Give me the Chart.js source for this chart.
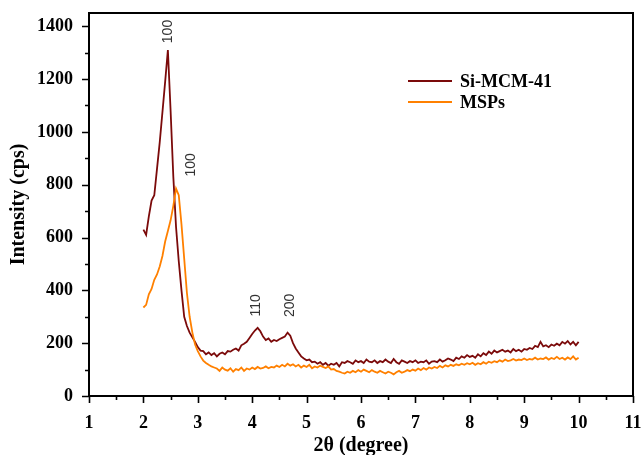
<!DOCTYPE html>
<html>
<head>
<meta charset="utf-8">
<script src="https://cdn.jsdelivr.net/npm/chart.js@4/dist/chart.umd.min.js"></script>
<style>
  html, body { margin: 0; padding: 0; background: #fff; }
  #wrap { width: 644px; height: 455px; }
</style>
</head>
<body>
<div id="wrap"><canvas id="c" width="644" height="455"></canvas></div>
<script>
// XRD scans, sampled every 0.05 deg from 2.00 to 10.00 (2θ)
const X_START = 2, X_STEP = 0.05;

const SI_MCM41 = [
  630, 610, 680, 740, 760, 860, 960, 1075, 1190, 1310,
  1080, 830, 640, 510, 400, 300, 265, 240, 222, 205,
  185, 172, 170, 158, 165, 155, 162, 150, 160, 165,
  158, 170, 168, 175, 180, 172, 192, 198, 205, 220,
  235, 248, 258, 245, 225, 212, 218, 205, 212, 208,
  215, 220, 225, 240, 228, 200, 180, 165, 150, 142,
  135, 138, 128, 130, 122, 128, 118, 125, 115, 122,
  118, 125, 112, 128, 125, 132, 128, 122, 135, 128,
  132, 125, 138, 130, 128, 135, 125, 132, 128, 138,
  130, 125, 140, 128, 122, 135, 130, 125, 132, 128,
  135, 125, 130, 128, 135, 122, 130, 132, 128, 138,
  130, 135, 142, 138, 132, 145, 140, 150, 145, 155,
  148, 152, 145, 158, 150, 162, 155, 168, 160, 172,
  165, 170, 175, 168, 172, 165, 178, 170, 175, 168,
  178, 175, 182, 178, 190, 185, 205, 188, 192, 185,
  195, 190, 198, 192, 205, 198, 208, 195, 205, 192,
  205
];

const MSPS = [
  335, 345, 385, 405, 440, 460, 490, 530, 585, 625,
  665, 720, 785, 760, 650, 520, 390, 300, 240, 195,
  170, 150, 134, 125, 118, 112, 108, 104, 95, 108,
  100, 96, 105, 92, 102, 98, 108, 95, 104, 100,
  108, 102, 110, 104, 106, 112, 105, 110, 108, 115,
  110, 118, 112, 122, 115, 120, 112, 118, 108, 115,
  110, 118, 105, 112, 108, 115, 110, 106, 112, 100,
  102, 95, 92, 88, 85, 92, 88, 95, 90, 98,
  92, 100, 95, 90, 98, 92, 88, 95, 90, 85,
  92, 88, 82, 90, 95, 88, 92, 98, 94, 100,
  96, 104, 98, 106, 100, 108, 104, 110, 106, 114,
  108, 116, 112, 118, 114, 120, 116, 122, 118, 124,
  120, 126, 118, 124, 120, 128, 122, 130, 126, 132,
  128, 135, 130, 138, 132, 135, 140, 134, 138, 136,
  142, 136, 140, 138, 145, 138, 142, 140, 146, 138,
  144, 140, 148, 140, 145, 138, 146, 140, 150, 138,
  145
];

// Miller-index labels at the reflections (centre of the rotated text, data units)
const PEAK_LABELS = ["100", "100", "110", "200"];
const PEAK_X = [2.45, 2.88, 4.08, 4.69];
const PEAK_Y = [1380, 875, 343, 343];

const SERIES_NAMES = ["Si-MCM-41", "MSPs"];
const COLORS = ["#7b0a0a", "#ff8000"];

const X_MIN = 1, X_MAX = 11, Y_MIN = 0, Y_MAX = 1450;
const Y_TICKS = [0, 200, 400, 600, 800, 1000, 1200, 1400];

const pts = arr => arr.map((v, i) => ({ x: +(X_START + i * X_STEP).toFixed(2), y: v }));

const SERIF = "'Liberation Serif', 'Times New Roman', serif";

// ---- frame, tick marks (major + minor), peak labels and inset legend
const decor = {
  id: "decor",
  afterDraw(chart) {
    const { ctx, chartArea: a, scales: { x, y } } = chart;
    ctx.save();
    ctx.strokeStyle = "#000";

    // top + right border of the box
    ctx.lineWidth = 2;
    ctx.beginPath();
    ctx.moveTo(a.left, a.top); ctx.lineTo(a.right, a.top); ctx.lineTo(a.right, a.bottom);
    ctx.stroke();

    // outward ticks
    ctx.lineWidth = 1.6;
    ctx.beginPath();
    for (let v = X_MIN; v <= X_MAX + 1e-9; v += 0.5) {
      const px = Math.round(x.getPixelForValue(v)) + 0.5;
      const len = Number.isInteger(v) ? 7 : 4;
      ctx.moveTo(px, a.bottom); ctx.lineTo(px, a.bottom + len);
    }
    for (let v = 0; v <= 1400; v += 100) {
      const py = Math.round(y.getPixelForValue(v)) + 0.5;
      const len = v % 200 === 0 ? 7 : 4;
      ctx.moveTo(a.left, py); ctx.lineTo(a.left - len, py);
    }
    ctx.stroke();

    // rotated peak indices
    ctx.fillStyle = "#333";
    ctx.font = "14px 'Liberation Sans', Arial, sans-serif";
    ctx.textAlign = "center";
    ctx.textBaseline = "middle";
    PEAK_LABELS.forEach((t, i) => {
      ctx.save();
      ctx.translate(x.getPixelForValue(PEAK_X[i]), y.getPixelForValue(PEAK_Y[i]));
      ctx.rotate(-Math.PI / 2);
      ctx.fillText(t, 0, 0);
      ctx.restore();
    });

    // legend
    ctx.font = "bold 18px " + SERIF;
    ctx.textAlign = "left";
    ctx.fillStyle = "#000";
    SERIES_NAMES.forEach((name, i) => {
      const ly = 81 + i * 21;
      ctx.strokeStyle = COLORS[i];
      ctx.lineWidth = 2.2;
      ctx.beginPath(); ctx.moveTo(408, ly); ctx.lineTo(452, ly); ctx.stroke();
      ctx.fillText(name, 460, ly + 1);
    });
    ctx.restore();
  },
};

new Chart(document.getElementById("c"), {
  type: "line",
  data: {
    datasets: [
      { label: SERIES_NAMES[0], data: pts(SI_MCM41), borderColor: COLORS[0], borderWidth: 1.8, order: 2 },
      { label: SERIES_NAMES[1], data: pts(MSPS), borderColor: COLORS[1], borderWidth: 1.8, order: 1 },
    ],
  },
  options: {
    responsive: false, animation: false,
    parsing: false,
    elements: { point: { radius: 0 }, line: { tension: 0 } },
    layout: { padding: { top: 13, right: 11, left: 0, bottom: 0 } },
    plugins: { legend: { display: false }, tooltip: { enabled: false } },
    scales: {
      x: {
        type: "linear", min: X_MIN, max: X_MAX,
        grid: { display: false, drawTicks: false },
        border: { display: true, color: "#000", width: 2 },
        ticks: { stepSize: 1, padding: 17, color: "#000", font: { family: SERIF, size: 18, weight: "bold" } },
        title: { display: true, text: "2θ (degree)", color: "#000", padding: { top: 0, bottom: -3 },
                 font: { family: SERIF, size: 20, weight: "bold" } },
        afterFit(s) { s.height = 59; s.paddingLeft = 0; s.paddingRight = 0; },
      },
      y: {
        type: "linear", min: Y_MIN, max: Y_MAX,
        grid: { display: false, drawTicks: false },
        border: { display: true, color: "#000", width: 2 },
        ticks: { padding: 16, color: "#000", font: { family: SERIF, size: 18, weight: "bold" },
                 callback: v => String(v) },
        afterBuildTicks(s) { s.ticks = Y_TICKS.map(v => ({ value: v })); },
        title: { display: true, text: "Intensity (cps)", color: "#000", padding: { top: 7, bottom: 0 },
                 font: { family: SERIF, size: 20, weight: "bold" } },
        afterFit(s) { s.width = 89; s.paddingTop = 0; s.paddingBottom = 0; },
      },
    },
  },
  plugins: [decor],
});
</script>
</body>
</html>
